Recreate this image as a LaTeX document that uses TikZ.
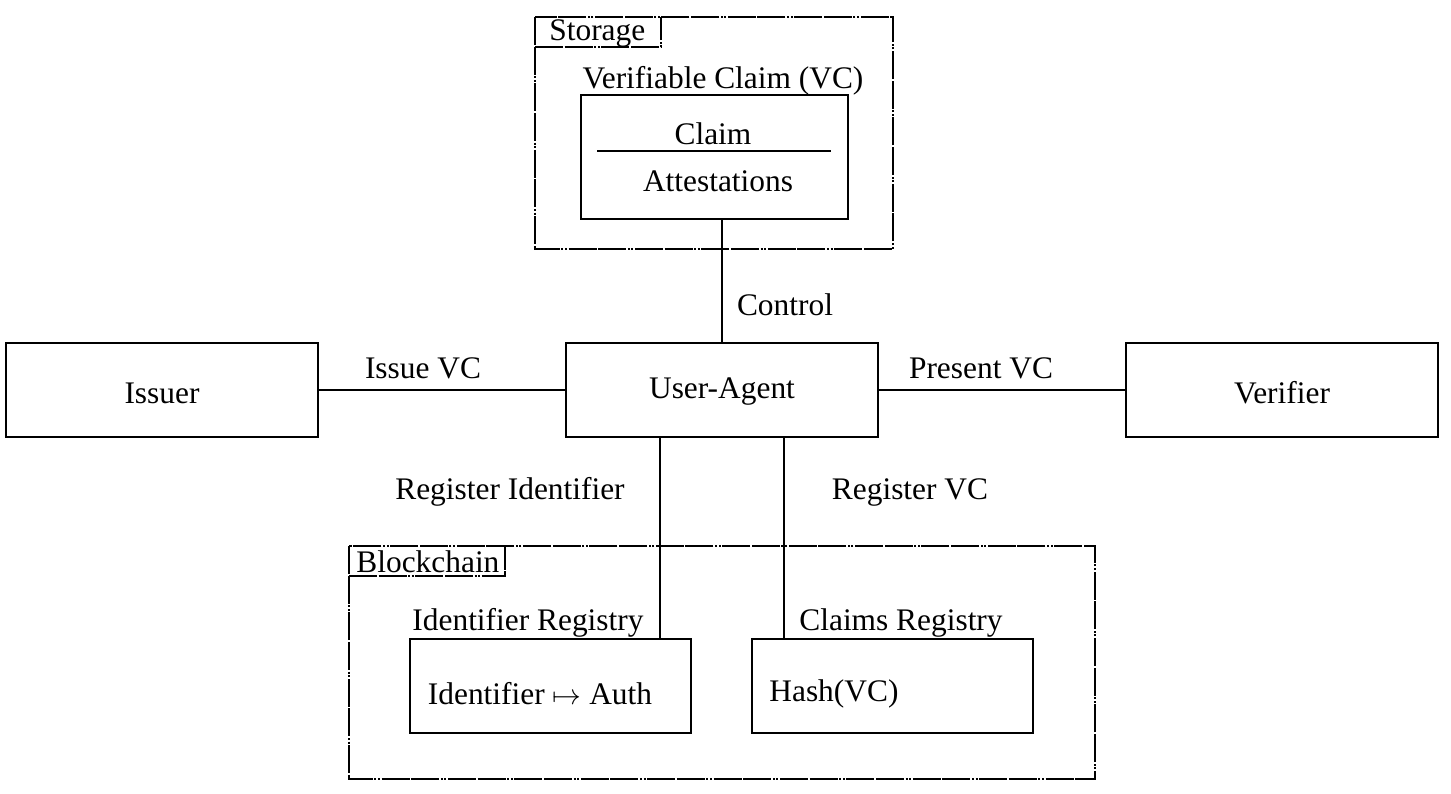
\documentclass[tikz,border=0pt]{standalone}
\usepackage{fontspec}
\setmainfont{Liberation Serif}
\begin{document}
\begin{tikzpicture}[x=0.5pt,y=-0.5pt,
  font=\fontsize{15.7}{18}\selectfont,
  box/.style={draw, line width=1.45pt, inner sep=0pt},
  grp/.style={draw, line width=1.45pt, dash pattern=on 14pt off 0.8pt on 14pt off 0.8pt on 1pt off 0.8pt on 1pt off 0.8pt},
  conn/.style={line width=1.25pt},
  lbl/.style={inner sep=0pt, anchor=center}]
\useasboundingbox (0,0) rectangle (1451,793);
% Storage group
\draw[grp] (535,17) rectangle (893,249);
\draw[grp] (535,47) -| (661,17);
\node[lbl, anchor=west] (storagel) at (549,33) {Storage};
\node[box, minimum width=133.5pt, minimum height=62pt] (vc) at (714.5,157) {};
\node[lbl] (vcl) at (723,81) {Verifiable Claim (VC)};
\node[lbl] (claim) at (713,134) {Claim};
\node[lbl] (att) at (718,181) {Attestations};
\coordinate (sepL) at (597,151);
\coordinate (sepR) at (831,151);
\draw[conn] (sepL) -- (sepR);
% main boxes
\node[box, minimum width=156pt, minimum height=47pt] (ua) at (722,390) {};
\node[lbl] (uat) at (722,392) {User-Agent};
\node[box, minimum width=156pt, minimum height=47pt] (issuer) at (162,390) {};
\node[lbl] (isst) at (162,393) {Issuer};
\node[box, minimum width=156pt, minimum height=47pt] (verifier) at (1282,390) {};
\node[lbl] (vert) at (1282,393) {Verifier};
\draw[conn] (vc.south -| 722,0) -- (ua.north -| 722,0);
\node[lbl] (ctl) at (785,305) {Control};
\draw[conn] (issuer) -- (ua);
\node[lbl] (iss) at (423,368) {Issue VC};
\draw[conn] (ua) -- (verifier);
\node[lbl] (pres) at (981,368) {Present VC};
% Blockchain group
\draw[grp] (349,546) rectangle (1095,779);
\draw[grp] (349,576) -| (505,546);
\node[lbl, anchor=west] (bcl) at (356,562) {Blockchain};
\node[box, minimum width=140.5pt, minimum height=47pt] (idr) at (550.5,686) {};
\node[lbl] (idrt) at (540,694) {Identifier $\mapsto$ Auth};
\node[lbl] (idrl) at (528,623) {Identifier Registry};
\node[box, minimum width=140.5pt, minimum height=47pt] (cr) at (892.5,686) {};
\node[lbl, anchor=west] (crt) at (769,694) {Hash(VC)};
\node[lbl] (crl) at (901,623) {Claims Registry};
\draw[conn] (ua.south -| 660,0) -- (idr.north -| 660,0);
\draw[conn] (ua.south -| 784,0) -- (cr.north -| 784,0);
\node[lbl] (rid) at (510,492) {Register Identifier};
\node[lbl] (rvc) at (910,492) {Register VC};
\end{tikzpicture}
\end{document}
